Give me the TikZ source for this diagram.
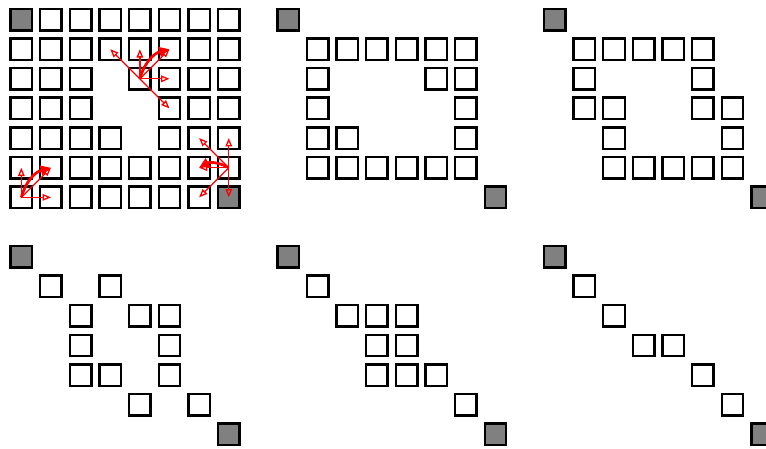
\documentclass[tikz,border=0pt]{standalone}
\usepackage{tikz}
\usetikzlibrary{arrows.meta}
\definecolor{Ends}{HTML}{808080}
\definecolor{Ray}{HTML}{FF0000}
\tikzset{cell/.style={draw=black,fill=white,line width=1.4pt,minimum size=0.435cm,inner sep=0pt},ends/.style={cell,fill=Ends},move/.style={-{Triangle[open,length=4.8pt,width=3.8pt]},draw=Ray,line width=.75pt},pick/.style={-{Triangle[length=6pt,width=5.5pt]},draw=Ray,line width=1.6pt}}
\newcommand{\gridpanel}[4]{%
  \begin{scope}[shift={(#2,#3)}]
    \node[ends](#1-0-0) at (0,0){};
    \node[ends](#1-6-7) at (7,-6){};
    \foreach \r/\cs in {#4}
      \foreach \c in \cs \node[cell](#1-\r-\c) at (\c,-\r){};
  \end{scope}}

\begin{document}
\begin{tikzpicture}[x=0.6cm,y=0.6cm]
  \useasboundingbox (-0.72,0.66) rectangle (25.13,-14.46);
  \gridpanel{a}{0}{0}{0/{1,...,7},1/{0,...,7},2/{0,1,2,4,5,6,7},3/{0,1,2,5,6,7},4/{0,1,2,3,5,6,7},5/{0,...,7},6/{0,...,6}}
  \gridpanel{b}{9}{0}{1/{1,...,6},2/{1,5,6},3/{1,6},4/{1,2,6},5/{1,...,6}}
  \gridpanel{c}{18}{0}{1/{1,...,5},2/{1,5},3/{1,2,5,6},4/{2,6},5/{2,...,6}}
  \gridpanel{d}{0}{-8}{1/{1,3},2/{2,4,5},3/{2,5},4/{2,3,5},5/{4,6}}
  \gridpanel{e}{9}{-8}{1/{1},2/{2,3,4},3/{3,4},4/{3,4,5},5/{6}}
  \gridpanel{f}{18}{-8}{1/{1},2/{2},3/{3,4},4/{5},5/{6}}
  \foreach \t in {1-3,1-4,1-5,2-5,3-5} \draw[move](a-2-4.center)--(a-\t.center);
  \draw[pick](a-2-4.center) to[bend left=30] (a-1-5.center);
  \foreach \t in {4-6,4-7,5-6,6-6,6-7} \draw[move](a-5-7.center)--(a-\t.center);
  \draw[pick](a-5-7.center) to[bend right=30] (a-5-6.center);
  \foreach \t in {5-0,5-1,6-1} \draw[move](a-6-0.center)--(a-\t.center);
  \draw[pick](a-6-0.center) to[bend left=30] (a-5-1.center);
\end{tikzpicture}
\end{document}
